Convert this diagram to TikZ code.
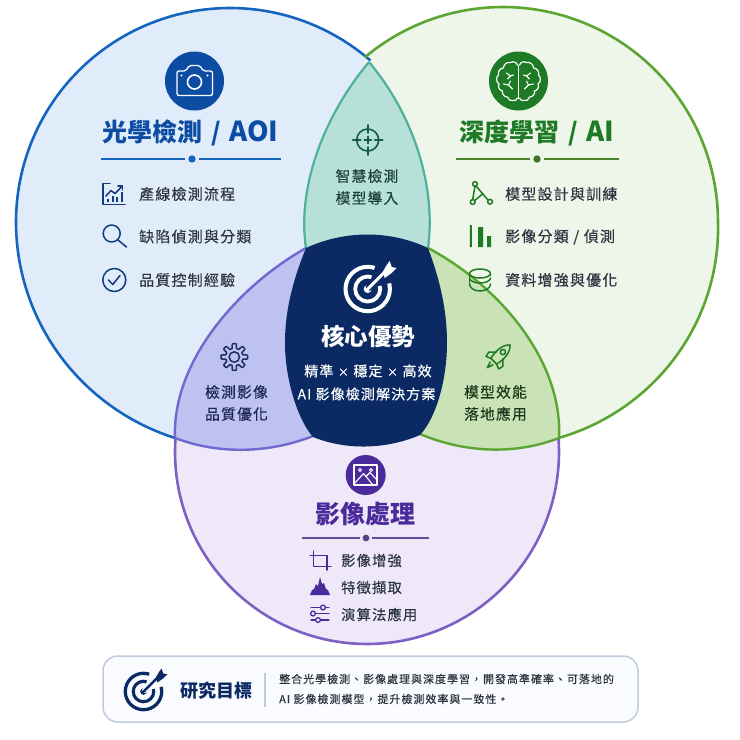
\documentclass[tikz,border=0pt]{standalone}
\usepackage{fontspec}
\setmainfont{Noto Sans CJK TC}
\newfontfamily\tcsp[LetterSpace=8,FakeBold=0.25]{Noto Sans CJK TC}
\newfontfamily\tcwide[LetterSpace=9,FakeBold=0.2]{Noto Sans CJK TC}
\definecolor{bluefill}{HTML}{E1ECFA}
\definecolor{greenfill}{HTML}{EEF5E9}
\definecolor{lavfill}{HTML}{EEE8F9}
\definecolor{topfill}{HTML}{B6E0D8}
\definecolor{leftfill}{HTML}{BDC2F0}
\definecolor{rightfill}{HTML}{C9E3B6}
\definecolor{navy}{HTML}{0B2A63}
\definecolor{bluestroke}{HTML}{1565C0}
\definecolor{greenstroke}{HTML}{5BA532}
\definecolor{lavstroke}{HTML}{7E5FC4}
\definecolor{tealstroke}{HTML}{4FB09B}
\definecolor{indigostroke}{HTML}{7068CF}
\definecolor{blueink}{HTML}{0D4CA3}
\definecolor{blueicon}{HTML}{123B7E}
\definecolor{greenink}{HTML}{1E7A25}
\definecolor{purpleink}{HTML}{4B2A9B}
\definecolor{textdark}{HTML}{2B3440}
\definecolor{boxline}{HTML}{C2CADF}
\definecolor{boxfill}{HTML}{FAFBFE}
\definecolor{tealink}{HTML}{17594D}
\definecolor{tealtext}{HTML}{1C423C}
\definecolor{indigoink}{HTML}{1E2D64}
\definecolor{indigotext}{HTML}{1C2454}
\definecolor{leaftext}{HTML}{1C381C}
\def\bluecurve{plot[domain=-49:-256,samples=150,variable=\t] ({230+(214+9*((max(0,-\t-180)/76)^2))*cos(\t)},{222+(214+9*((max(0,-\t-180)/76)^2))*sin(\t)})}
\def\greencurve{plot[domain=-130:75.5,samples=150,variable=\t] ({503+(215+8*(max(0,\t)/75.5))*cos(\t)},{222+(215+8*(max(0,\t)/75.5))*sin(\t)})}
\def\lavcurve{plot[domain=184.2:-4.2,samples=130,variable=\t] ({367+192*cos(\t)},{452+192*sin(\t)})}
\def\lensLpath{(369,62) .. controls (322,118) and (297,190) .. (306,248)}
\def\lensRpath{(428,248) .. controls (436,190) and (416,118) .. (369,62)}
\def\leftuppath{(306,248) .. controls (240,285) and (172,360) .. (175,438)}
\def\leftlowpath{(175,438) .. controls (220,455) and (270,453) .. (313,436)}
\def\rightuppath{(428,248) .. controls (498,285) and (563,360) .. (559,438)}
\def\rightlowpath{(559,438) .. controls (515,455) and (465,453) .. (420,434)}
\tikzset{
  itemtext/.style={anchor=west,text=textdark,font=\tcsp\fontsize{15}{16}\selectfont,inner sep=0pt},
  subtext/.style={anchor=west,text=textdark,font=\tcsp\fontsize{14.3}{16}\selectfont,inner sep=0pt},
  lenstext/.style={align=center,font=\tcsp\fontsize{14.8}{22}\selectfont,inner sep=0pt},
  corelabel/.style={text=white,font=\tcsp\fontsize{14}{16}\selectfont,inner sep=0pt},
  titletext/.style={font=\fontsize{25}{28}\selectfont\bfseries,inner sep=0pt},
  ic/.style={line width=1.5pt,line cap=round,line join=round},
}
\newcommand{\targeticon}[5]{%
  \begin{scope}[shift={(#1,#2)},scale=#3]
    \draw[#4,line width=#3*4pt] (0,0) circle[radius=22.2];
    \draw[#4,line width=#3*3.8pt] (0,0) circle[radius=12.5];
    \fill[#5] (0,0) -- (10,-30) -- (30,-8) -- cycle;
    \fill[#4] (0,0) circle[radius=4];
    \draw[#5,line width=#3*6pt] (0,0) -- (17,-17);
    \draw[#4,line width=#3*3pt,line cap=round] (0,0) -- (17,-17);
    \fill[#4,line join=round] (15,-17) -- (19,-24) -- (22,-28) -- (24,-22) -- (29,-21) -- (24,-16) -- (17,-11) -- cycle;
  \end{scope}}
\newcommand{\brainhalf}{%
  \draw[white,line width=1.2pt,line cap=round,line join=round]
    (-1,-16) to[bend right=55] (-8,-18.5) to[bend right=55] (-15,-13) to[bend right=55] (-20,-6)
    to[bend right=55] (-19.5,3) to[bend right=55] (-16,10) to[bend right=55] (-11,16)
    to[bend right=55] (-5,19.5) to[bend right=40] (-1,17);
  \draw[white,line width=1.1pt,line cap=round,line join=round]
    (-12,-8) -- (-8,-5) -- (-11,-2) (-8,-5) -- (-5,-6)
    (-15,3) -- (-10,4) -- (-6,8) (-10,4) -- (-8,0);
}
\begin{document}
\begin{tikzpicture}[x=1pt,y=-1pt]
\useasboundingbox (0,0) rectangle (740,740);
\fill[white] (0,0) rectangle (740,740);
% region fills
\fill[bluefill] \bluecurve -- (313,436) -- (369,250) -- cycle;
\fill[greenfill] \greencurve -- (420,434) -- (369,250) -- cycle;
\fill[lavfill] \lavcurve -- (420,434) -- (367,400) -- (313,436) -- cycle;
\fill[topfill] \lensLpath -- (428,248) .. controls (436,190) and (416,118) .. (369,62) -- cycle;
\fill[leftfill] \leftuppath .. controls (172,438) and (172,438) .. (175,438) .. controls (220,455) and (270,453) .. (313,436) -- cycle;
\fill[rightfill] \rightuppath .. controls (515,455) and (465,453) .. (420,434) -- cycle;
% outlines
\draw[bluestroke,line width=2.6pt] \bluecurve;
\draw[greenstroke,line width=2.6pt] \greencurve;
\draw[lavstroke,line width=2.6pt] \lavcurve;
\draw[tealstroke,line width=2.2pt] \lensLpath;
\draw[tealstroke,line width=2.2pt] \lensRpath;
\draw[indigostroke,line width=2.4pt] \leftuppath;
\draw[indigostroke,line width=2.4pt] \leftlowpath;
\draw[greenstroke,line width=2.4pt] \rightuppath;
\draw[greenstroke,line width=2.4pt] \rightlowpath;
% core
\fill[navy] (306,248) .. controls (345,230) and (390,230) .. (428,248)
  .. controls (440,280) and (447,310) .. (447,343)
  .. controls (447,380) and (436,418) .. (420,435)
  .. controls (385,450) and (345,450) .. (313,437)
  .. controls (298,420) and (285,380) .. (285,343)
  .. controls (285,310) and (293,280) .. (306,248) -- cycle;
% camera badge
\fill[blueink] (194.5,81) circle[radius=29.5];
\draw[white,line width=1.3pt,line join=round,rounded corners=2pt]
  (177,71) -- (186,71) -- (189,65.5) -- (200,65.5) -- (203,71) -- (212.5,71) -- (212.5,95.5) -- (177,95.5) -- cycle;
\draw[white,line width=1.6pt] (194.5,82) circle[radius=7];
\fill[white] (181.5,75.5) circle[radius=1.1] (207.5,75.5) circle[radius=1.1];
% brain badge
\fill[greenink] (518.5,81) circle[radius=29.5];
\begin{scope}[shift={(518.5,81)}]
  \brainhalf
  \begin{scope}[xscale=-1]\brainhalf\end{scope}
  \draw[white,line width=1.2pt] (0,-16) -- (0,18);
\end{scope}
% image badge
\fill[purpleink] (365.7,475) circle[radius=20];
\draw[white,line width=1.1pt,line join=round] (354,465) rectangle (377,485);
\draw[white,line width=1.1pt,line join=round] (354,484) -- (363.5,473.5) -- (373,485) (366,476.5) -- (370,472.5) -- (377,480);
\draw[white,line width=.9pt] (360,470) circle[radius=1.6] (371,470) circle[radius=1.6];
% titles
\node[titletext,text=blueink,anchor=west] (t1) at (102.5,133) {光學檢測\hspace{8.5pt}/\hspace{8.5pt}{\fontsize{27.5}{28}\selectfont AOI}};
\node[titletext,text=greenink,anchor=west] (t2) at (459.5,133) {深度學習\hspace{8.5pt}/\hspace{8.5pt}{\fontsize{27.5}{28}\selectfont AI}};
\node[titletext,text=purpleink] (t3) at (365,514) {影像處理};
% dividers
\draw[bluestroke,line width=1.1pt] (101,159) -- (185,159) (199,159) -- (281,159);
\fill[bluestroke] (192,159) circle[radius=3.7];
\draw[greenstroke!80!black,line width=1.1pt] (456,159) -- (530,159) (544,159) -- (619,159);
\fill[greenstroke!70!black] (537,159) circle[radius=3.7];
\draw[lavstroke!80!black,line width=1.1pt] (302,538) -- (360,538) (372,538) -- (429,538);
\fill[lavstroke!70!black] (366,538) circle[radius=3.4];
% blue list
\begin{scope}[blueicon,ic]
  \draw (110,183.5) -- (103,183.5) -- (103,204.5) -- (125,204.5);
  \draw (106,196) -- (111,190.5) -- (115,193.5) -- (122,186.5);
  \draw (118,186) -- (122.5,186) -- (122.5,190);
  \draw[line cap=butt,line width=2pt] (108,202) -- (108,199) (112.5,202) -- (112.5,196) (117,202) -- (117,197) (121.5,202) -- (121.5,192);
  \draw (111.7,233.5) circle[radius=8.5];
  \draw (118,240) -- (126.5,247);
  \draw (114.3,280) circle[radius=11.5];
  \draw (108.5,280) -- (112.8,284.5) -- (120,275.5);
\end{scope}
\node[itemtext] (a1) at (139,194) {產線檢測流程};
\node[itemtext] (a2) at (139,236.5) {缺陷偵測與分類};
\node[itemtext] (a3) at (139,280) {品質控制經驗};
% green list
\begin{scope}[greenink,ic]
  \draw (475,186) -- (472.7,199.5) (476,186) -- (488,200) (474.8,200.5) -- (483,193.5);
  \draw (475,184) circle[radius=2.4] (472.7,202) circle[radius=2.4] (490,201.7) circle[radius=2.4];
  \fill (469.8,225) rectangle (471.8,247) (478,227) rectangle (483,247) (487,236) rectangle (491,247);
  \draw (480,273.5) ellipse[x radius=10.5,y radius=4.5];
  \draw (469.5,278) arc[start angle=180,end angle=0,x radius=10.5,y radius=5];
  \draw (469.5,284) arc[start angle=180,end angle=0,x radius=10.5,y radius=7];
  \draw (469.5,273.5) -- (469.5,284) (490.5,273.5) -- (490.5,275.5);
\end{scope}
\node[itemtext] (b1) at (505,194) {模型設計與訓練};
\node[itemtext] (b2) at (505,237) {影像分類 / 偵測};
\node[itemtext] (b3) at (505,280) {資料增強與優化};
% purple list
\begin{scope}[purpleink,ic]
  \draw (313.5,551) -- (313.5,566.5) -- (331,566.5) (310,555.5) -- (327,555.5) -- (327,570);
  \fill (310,595) -- (312,590) -- (314,589) -- (316,584) -- (318,586) -- (320,577) -- (322,584) -- (324,583) -- (326,589) -- (328,590) -- (330,595) -- cycle;
  \draw[line width=1.3pt] (311,607.5) -- (320.5,607.5) (325.5,607.5) -- (329,607.5)
     (315.5,613.5) -- (329,613.5)
     (311,620) -- (315.5,620) (320.5,620) -- (329,620);
  \draw[line width=1.3pt] (323,607.5) circle[radius=2.4] (313,613.5) circle[radius=2.4] (318,620) circle[radius=2.4];
\end{scope}
\node[subtext] (c1) at (341,560.5) {影像增強};
\node[subtext] (c2) at (341,587.5) {特徵擷取};
\node[subtext] (c3) at (341,614.5) {演算法應用};
% crosshair
\begin{scope}[shift={(367.7,140)},tealink,line width=1.6pt,line cap=round]
  \draw (0,0) circle[radius=11];
  \draw (0,-15) -- (0,-7) (0,7) -- (0,15) (-15,0) -- (-7,0) (7,0) -- (15,0);
  \draw (0,-3.5) -- (0,3.5) (-3.5,0) -- (3.5,0);
\end{scope}
\node[lenstext,text=tealtext] (top) at (367,187) {智慧檢測\\模型導入};
% gear
\draw[indigoink,line width=1.5pt,line join=round] plot[domain=0:360,samples=193,variable=\t] ({234.3+(11+2.3*max(-1,min(1,2.4*cos(8*\t))))*cos(\t)},{357+(11+2.3*max(-1,min(1,2.4*cos(8*\t))))*sin(\t)}) -- cycle;
\draw[indigoink,line width=1.5pt] (234.3,357) circle[radius=5.2];
\node[lenstext,text=indigotext] (lft) at (236.5,403) {檢測影像\\品質優化};
% rocket
\begin{scope}[shift={(498,357)},rotate=-45,greenink,line width=1.5pt,line join=round,line cap=round]
  \draw (0,-17) .. controls (6,-12) and (6,-1) .. (4,6) -- (-4,6) .. controls (-6,-1) and (-6,-12) .. (0,-17) -- cycle;
  \draw (0,-7) circle[radius=2.6];
  \draw (-4.8,-2) -- (-10,3) -- (-9,8) -- (-4,6) (4.8,-2) -- (10,3) -- (9,8) -- (4,6);
  \draw (-2,9) -- (0,15) -- (2,9);
\end{scope}
\node[lenstext,text=leaftext] (rgt) at (495.5,403) {模型效能\\落地應用};
% core content
\targeticon{367.7}{289}{1}{white}{navy}
\node[font=\fontsize{23.5}{26}\selectfont\bfseries,text=white,inner sep=0pt] (core) at (368,336) {核心優勢};
\node[corelabel] (core1) at (368,371) {精準\hspace{4.5pt}{\fontsize{11}{12}\selectfont ×}\hspace{4.5pt}穩定\hspace{4.5pt}{\fontsize{11}{12}\selectfont ×}\hspace{4.5pt}高效};
\node[corelabel] (core2) at (366.5,394) {AI 影像檢測解決方案};
% bottom box
\draw[boxline,fill=boxfill,line width=1.5pt,rounded corners=15pt] (103,656) rectangle (638,722);
\targeticon{143.5}{691.5}{.82}{navy}{boxfill}
\node[font=\fontsize{18}{20}\selectfont\bfseries,text=navy,inner sep=0pt] (goal) at (216,691) {研究目標};
\draw[boxline,line width=1.1pt] (265,673) -- (265,707);
\node[anchor=west,inner sep=0pt,text=textdark,font=\tcwide\fontsize{11}{13}\selectfont] (g1) at (279,679) {整合光學檢測、影像處理與深度學習，開發高準確率、可落地的};
\node[anchor=west,inner sep=0pt,text=textdark,font=\tcwide\fontsize{11}{13}\selectfont] (g2) at (279,699) {AI 影像檢測模型，提升檢測效率與一致性。};
\end{tikzpicture}
\end{document}
